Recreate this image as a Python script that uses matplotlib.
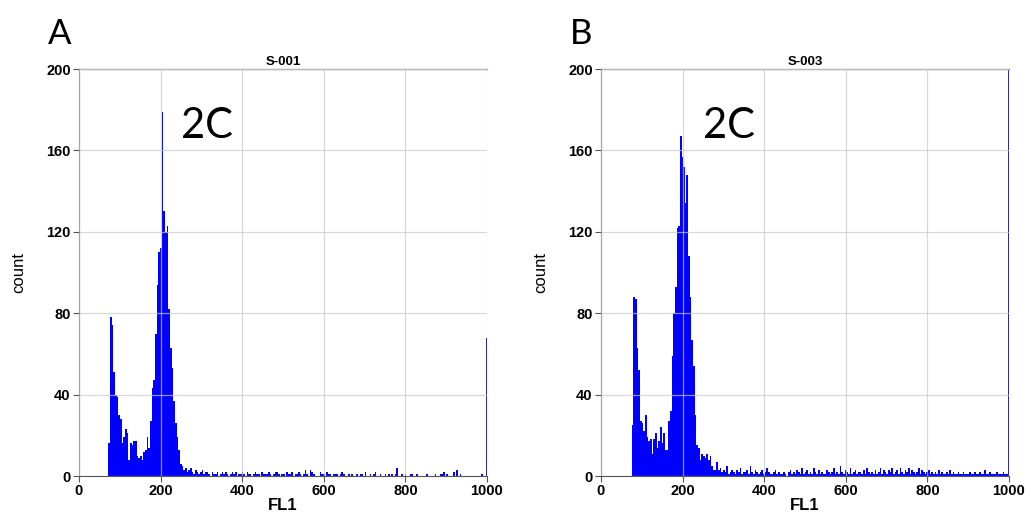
import matplotlib.pyplot as plt
import numpy as np

# counts per FL1 channel bin
bin_width = 4.08

a_start = 72
a_peak = [16, 78, 74, 51, 40, 39, 30, 28, 16, 19, 23, 21, 8, 16, 15, 17, 17, 10, 9, 10,
          8, 12, 13, 19, 14, 27, 43, 47, 70, 94, 110, 112, 179, 130, 120, 123, 82, 63, 53, 37,
          26, 19, 13, 6, 5]
a_tail = [3, 4, 2, 3, 4, 2, 1, 3, 2, 1, 2, 3, 1, 2, 2, 1, 0, 2, 1, 1, 2, 0, 1, 2, 1,
          2, 1, 0, 1, 2, 1, 2, 0, 1, 1, 2, 1, 0, 2, 1, 1, 0, 1, 2, 1, 1, 0, 2, 1, 1,
          1, 2, 1, 0, 1, 2, 2, 1, 0, 1, 1, 0, 2, 1, 1, 2, 0, 1, 1, 2, 1, 0, 1, 3, 1,
          0, 3, 2, 1, 0, 0, 0, 2, 1, 1, 0, 2, 1, 1, 0, 1, 1, 1, 0, 1, 2, 1, 0, 0, 1,
          0, 1, 0, 0, 1, 0, 1, 1, 0, 2, 0, 0, 1, 0, 1, 2, 0, 0, 1, 0, 0, 1, 0, 1, 0,
          1, 0, 1, 4, 0, 0, 1, 0, 1, 0, 0, 1, 1, 0, 0, 1, 0, 0, 0, 0, 0, 1, 0, 0, 0,
          0, 1, 0, 0, 1, 1, 2, 0, 1, 0, 0, 0, 2, 0, 3, 0, 1, 0, 0, 0, 0, 0, 0, 0, 0,
          0, 0, 0, 0, 1, 0, 0]
a_overflow = 68

b_start = 75
b_peak = [25, 88, 87, 63, 52, 27, 26, 22, 30, 19, 17, 18, 11, 18, 21, 14, 17, 24, 16, 21,
          13, 13, 27, 32, 59, 80, 93, 122, 123, 167, 157, 152, 134, 148, 108, 88, 67, 54, 30, 15,
          14, 8, 11, 10, 9, 11, 8, 10, 5, 3, 3, 7, 3]
b_tail = [4, 2, 3, 2, 5, 1, 2, 3, 2, 1, 3, 2, 4, 1, 2, 2, 3, 1, 5, 2, 1, 3, 2, 1, 2,
          3, 1, 2, 4, 2, 1, 1, 2, 3, 1, 2, 1, 1, 2, 1, 0, 2, 3, 1, 2, 1, 3, 2, 1, 4,
          1, 2, 3, 1, 2, 1, 4, 2, 1, 3, 1, 2, 1, 1, 3, 2, 1, 2, 4, 1, 2, 1, 5, 2, 1,
          3, 2, 1, 4, 1, 2, 3, 1, 2, 2, 1, 3, 1, 4, 2, 1, 2, 1, 3, 1, 2, 4, 1, 3, 2,
          1, 3, 2, 4, 1, 2, 3, 1, 4, 2, 1, 3, 2, 4, 1, 3, 2, 1, 2, 4, 1, 3, 2, 1, 2,
          3, 1, 2, 1, 2, 1, 3, 1, 2, 1, 1, 2, 1, 3, 1, 2, 1, 1, 2, 1, 1, 2, 1, 1, 1,
          2, 1, 1, 2, 1, 1, 2, 1, 1, 3, 1, 1, 2, 1, 1, 1, 2, 1, 1, 1, 2, 1, 1]
b_overflow = 400

x_ticks = [0, 200, 400, 600, 800, 1000]
y_ticks = [0, 40, 80, 120, 160, 200]

panels = [
    ("A", "S-001", a_start, a_peak + a_tail, a_overflow, 0.0766),
    ("B", "S-003", b_start, b_peak + b_tail, b_overflow, 0.5829),
]

fig = plt.figure(figsize=(10.31, 5.24), dpi=100)
tick_font = dict(family="Liberation Sans", weight="bold", size=10.5)

for letter, title, start, counts, overflow, left in panels:
    ax = fig.add_axes([left, 0.0916, 0.3957, 0.7767])
    counts = np.array(counts)
    edges = start + bin_width * np.arange(len(counts) + 1)
    n = int(np.sum(edges[1:] < 998))
    ax.stairs(counts[:n], edges[:n + 1], fill=True, color="#0000ff", linewidth=0)
    ax.bar([999], [overflow], width=2.2, align="center", color="#1a1aa0", linewidth=0)

    ax.set_xlim(0, 1000)
    ax.set_ylim(0, 200)
    ax.set_xticks(x_ticks)
    ax.set_yticks(y_ticks)
    ax.set_xticklabels([str(t) for t in x_ticks], **tick_font)
    ax.set_yticklabels([str(t) for t in y_ticks], **tick_font)
    ax.tick_params(direction="out", length=4, color="#555555", pad=2)
    ax.grid(True, color="#c8c8c8", linewidth=0.9, alpha=0.7)
    ax.set_axisbelow(False)
    for side in ["top", "right"]:
        ax.spines[side].set_visible(False)
    for side in ["left", "bottom"]:
        ax.spines[side].set_color("#555555")
    ax.axhline(200, color="#999999", linewidth=1.0, clip_on=False)

    ax.set_title(title, family="Liberation Sans", weight="bold", size=9.5, pad=3)
    ax.set_xlabel("FL1", family="Liberation Sans", weight="bold", size=12, labelpad=0)
    ax.set_ylabel("count", family="Liberation Sans", size=12, labelpad=14)
    ax.text(250, 172, "2C", family="Lato", size=30, va="center", ha="left")
    fig.text(left - 0.03, 0.935, letter, family="Lato", size=25, va="center", ha="left")

fig.savefig("out.png", dpi=100)
